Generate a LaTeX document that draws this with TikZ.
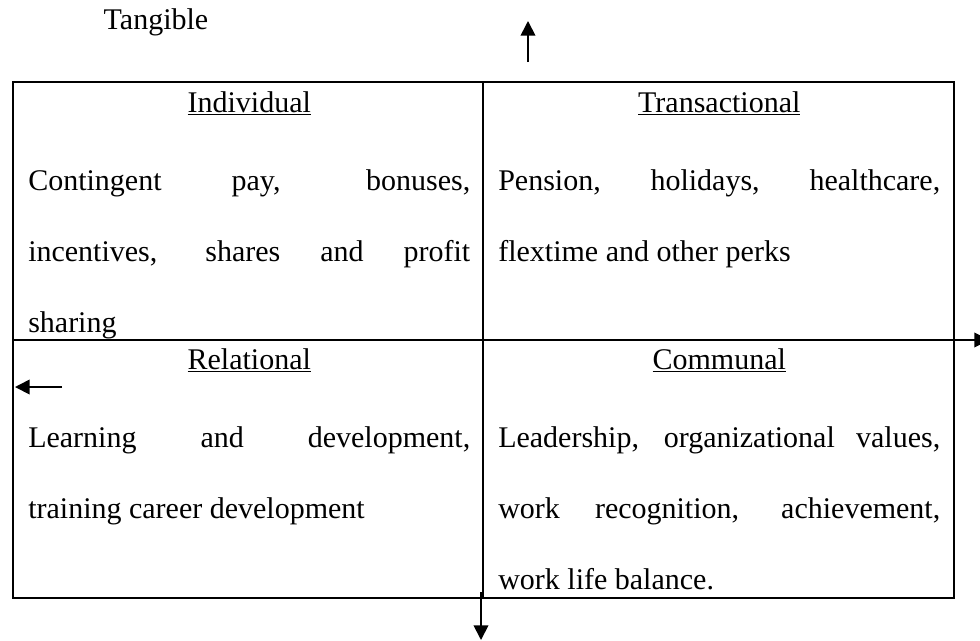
\documentclass[tikz,border=0pt]{standalone}
\usepackage{fontspec}
\setmainfont{Liberation Serif}
\usetikzlibrary{arrows.meta,positioning}

% centred, underlined heading on top of a cell
\newcommand{\cellhead}[1]{{\centering\underline{#1}\par}\vspace{5.25pt}}

\begin{document}
\begin{tikzpicture}[
		x=0.75pt, y=-0.75pt,
		node distance=0pt,
		cell/.style={
			rectangle,
			draw,
			line width=0.8pt,
			inner sep=0pt,
			outer sep=0pt,
			minimum height=193.5pt
		},
		celltext/.style={
			inner sep=0pt,
			anchor=base west,
			text width=331.5pt,
			align=justify,
			font=\fontsize{22.5pt}{53.25pt}\selectfont
		},
		axislabel/.style={
			inner sep=0pt,
			anchor=base,
			font=\fontsize{22.5pt}{27pt}\selectfont
		},
		arrow/.style={-{Triangle[length=11pt,width=11pt]}, line width=1.3pt}
		]
		\useasboundingbox (0,0) rectangle (980,640);

		\node[axislabel] (tangible) at (156,29) {Tangible};

		% the four quadrants
		\node[cell, minimum width=352.5pt, anchor=north west] (indiv) at (13,82) {};
		\node[cell, minimum width=353.25pt, right=of indiv] (trans) {};
		\node[cell, minimum width=352.5pt, below=of indiv] (relat) {};
		\node[cell, minimum width=353.25pt, below=of trans] (commun) {};

		\node[celltext] (indivtxt) at ([shift={(15,30)}]indiv.north west)
			{\cellhead{Individual}Contingent pay, bonuses,\linebreak incentives, shares and profit\linebreak sharing};
		\node[celltext] (transtxt) at ([shift={(15,30)}]trans.north west)
			{\cellhead{Transactional}Pension, holidays, healthcare,\linebreak flextime and other perks};
		\node[celltext] (relattxt) at ([shift={(15,29)}]relat.north west)
			{\cellhead{Relational}Learning and development,\linebreak training career development};
		\node[celltext] (communtxt) at ([shift={(15,29)}]commun.north west)
			{\cellhead{Communal}Leadership, organizational values,\linebreak work recognition, achievement,\linebreak work life balance.};

		% axis arrows
		\coordinate (upfrom) at (528,62);
		\coordinate (upto) at (528,21);
		\coordinate (rightfrom) at (948,340);
		\coordinate (rightto) at (989,340);
		\coordinate (leftfrom) at (62,387);
		\coordinate (leftto) at (15,387);
		\coordinate (downfrom) at (481,592);
		\coordinate (downto) at (481,640);

		\draw[arrow] (upfrom) -- (upto);
		\draw[arrow] (rightfrom) -- (rightto);
		\draw[arrow] (leftfrom) -- (leftto);
		\draw[arrow] (downfrom) -- (downto);
	\end{tikzpicture}
\end{document}
